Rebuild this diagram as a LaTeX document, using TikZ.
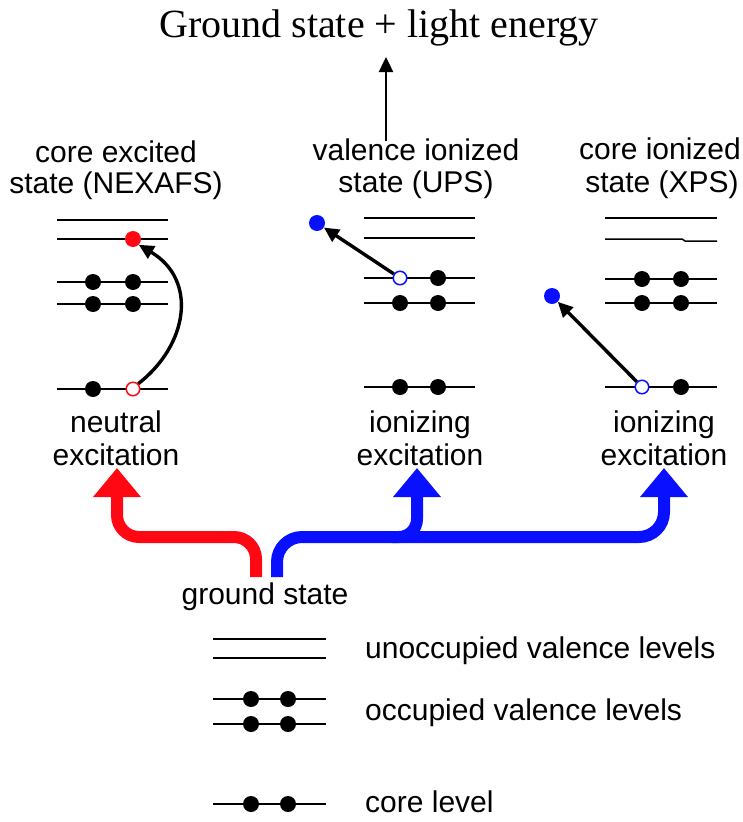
\documentclass[tikz,border=0pt]{standalone}
\usepackage{fontspec}
\setmainfont{Liberation Serif}
\setsansfont{Liberation Sans}
\usetikzlibrary{arrows.meta}
\definecolor{exred}{RGB}{255,8,20}
\definecolor{ionblue}{RGB}{8,16,255}

\begin{document}
\begin{tikzpicture}[x=1pt,y=-1pt,
  lvl/.style={line width=1.5pt},
  dot/.style={circle,fill=black,inner sep=0pt,minimum size=16pt},
  reddot/.style={dot,fill=exred},
  bluedot/.style={dot,fill=ionblue},
  hole/.style={circle,fill=white,draw=#1,line width=1.5pt,inner sep=0pt,minimum size=13.5pt},
  lbl/.style={font=\sffamily\fontsize{30}{32}\selectfont,anchor=base,inner sep=0pt},
  jump/.style={line width=3.4pt,-{Triangle[length=15pt,width=14pt]}},
  bigarrow/.style={line width=12pt,-{Triangle[length=29pt,width=46pt]}},
]
\useasboundingbox (0,0) rectangle (742,822);

% ---- title and the photon arrow ----
\node[anchor=base,inner sep=0pt,font=\fontsize{40}{43}\selectfont] (title) at (379,37) {Ground state + light energy};
\coordinate (up0) at (386,141);
\coordinate (up1) at (386,57);
\draw[line width=2.4pt,-{Triangle[length=15pt,width=14pt]}] (up0) -- (up1);

% ---- headings ----
\node[lbl] (h1a) at (116,162) {core excited};
\node[lbl] (h1b) at (116,193) {state (NEXAFS)};
\node[lbl] (h2a) at (416,160) {valence ionized};
\node[lbl] (h2b) at (416,192) {state (UPS)};
\node[lbl] (h3a) at (660,159) {core ionized};
\node[lbl] (h3b) at (662,192) {state (XPS)};

% ---- NEXAFS levels ----
\foreach \y in {220,239,282,304,389} \draw[lvl] (57,\y) -- (168,\y);
\node[dot] (n1) at (93,282) {};
\node[dot] (n2) at (133,282) {};
\node[dot] (n3) at (93,304) {};
\node[dot] (n4) at (133,304) {};
\node[dot] (nc) at (93,389) {};
\node[hole=exred] (nh) at (133,389) {};
\node[reddot] (ne) at (133,239) {};
\draw[jump] (nh.north east) .. controls (188,345) and (198,280) .. (ne.south east);

% ---- UPS levels ----
\foreach \y in {218,238,278,303,387} \draw[lvl] (364,\y) -- (475,\y);
\node[hole=ionblue] (uh) at (400,278) {};
\node[dot] (u1) at (438,278) {};
\node[dot] (u2) at (400,303) {};
\node[dot] (u3) at (438,303) {};
\node[dot] (uc1) at (400,387) {};
\node[dot] (uc2) at (438,387) {};
\node[bluedot] (ue) at (317,223) {};
\draw[jump] (uh) -- (ue);

% ---- XPS levels ----
\draw[lvl] (605,218) -- (717,218);
\draw[lvl] (605,239) -- (682,239) -- (685,241) -- (717,241);
\foreach \y in {279,303,387} \draw[lvl] (605,\y) -- (717,\y);
\node[dot] (x1) at (642,279) {};
\node[dot] (x2) at (681,279) {};
\node[dot] (x3) at (642,303) {};
\node[dot] (x4) at (681,303) {};
\node[hole=ionblue] (xh) at (642,387) {};
\node[dot] (xc) at (681,387) {};
\node[bluedot] (xe) at (552,296) {};
\draw[jump] (xh) -- (xe);

% ---- excitation labels ----
\node[lbl] (b1a) at (116,432) {neutral};
\node[lbl] (b1b) at (116,465) {excitation};
\node[lbl] (b2a) at (420,432) {ionizing};
\node[lbl] (b2b) at (420,465) {excitation};
\node[lbl] (b3a) at (664,432) {ionizing};
\node[lbl] (b3b) at (664,465) {excitation};

% ---- ground state and the branching arrows ----
\node[lbl] (gs) at (265,604) {ground state};
\coordinate (gsr) at (256,577);
\coordinate (gsb) at (277,577);
\coordinate (tipn) at (117,468);
\coordinate (tipu) at (417,468);
\coordinate (tipx) at (664,468);
\coordinate (fork) at (392,537);
\draw[bigarrow,exred,rounded corners=22pt] (gsr) -- (gsr |- 0,537) -- (tipn |- 0,537) -- (tipn);
\draw[bigarrow,ionblue,rounded corners=25pt] (gsb) -- (gsb |- 0,537) -- (tipx |- 0,537) -- (tipx);
\draw[bigarrow,ionblue,rounded corners=18pt] (fork) -- (tipu |- fork) -- (tipu);

% ---- legend ----
\draw[lvl] (213,639) -- (326,639);
\draw[lvl] (213,658) -- (326,658);
\node[lbl] (l1) at (365,658) [anchor=base west] {unoccupied valence levels};
\draw[lvl] (213,699) -- (326,699);
\draw[lvl] (213,724) -- (326,724);
\node[dot] (lo1) at (251,699) {};
\node[dot] (lo2) at (288,699) {};
\node[dot] (lo3) at (251,724) {};
\node[dot] (lo4) at (288,724) {};
\node[lbl] (l2) at (365,720) [anchor=base west] {occupied valence levels};
\draw[lvl] (213,804) -- (326,804);
\node[dot] (lc1) at (251,804) {};
\node[dot] (lc2) at (288,804) {};
\node[lbl] (l3) at (365,812) [anchor=base west] {core level};
\end{tikzpicture}
\end{document}
